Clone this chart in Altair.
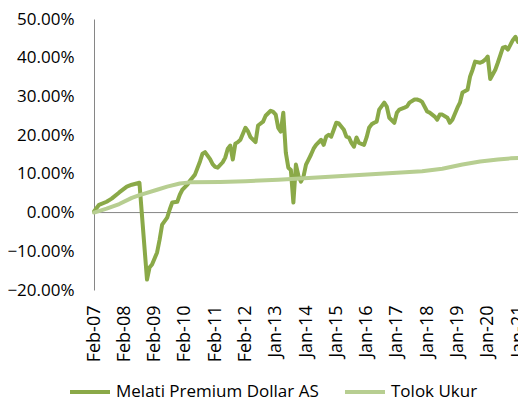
import altair as alt
import pandas as pd

# Melati Premium Dollar AS (cumulative return, %), x = month index from Feb-07
melati_month = [0, 2, 5, 7, 10, 13, 15, 18, 21, 22, 23, 25, 26, 27, 29, 30, 31, 33, 34, 35,
                37, 38, 39, 40, 42, 43, 44, 46, 47, 48, 49, 51, 52, 53, 54, 55, 56, 57, 58, 60,
                61, 62, 64, 65, 67, 68, 70, 71, 72, 73, 74, 75, 76, 77, 78, 79, 80, 81, 82, 83,
                84, 85, 86, 87, 88, 90, 91, 92, 93, 94, 95, 96, 97, 99, 100, 101, 102, 103, 104, 105,
                107, 108, 109, 110, 111, 112, 113, 115, 116, 117, 119, 120, 121, 123, 124, 125, 127, 128, 129, 130,
                132, 133, 135, 136, 137, 138, 140, 141, 142, 144, 145, 146, 148, 149, 150, 151, 153, 154, 155, 156,
                157, 159, 160, 162, 163, 164, 166, 167, 168]
melati_value = [0.3, 2.0, 2.8, 3.6, 5.2, 6.7, 7.2, 7.7, -17.3, -14.2, -13.4, -10.3, -7.0, -3.1, -1.3, 0.8, 2.6, 2.8, 4.6, 5.9,
                7.2, 8.2, 9.0, 9.8, 13.2, 15.2, 15.6, 13.8, 12.5, 11.8, 11.6, 13.0, 14.2, 16.5, 17.3, 13.7, 17.8, 18.2, 18.8, 21.9,
                21.0, 19.5, 18.2, 22.5, 23.5, 25.0, 26.3, 26.0, 25.3, 21.9, 20.9, 25.8, 15.5, 11.6, 11.0, 2.6, 12.4, 9.5, 8.0, 9.3,
                12.4, 13.7, 15.0, 16.5, 17.5, 18.8, 17.5, 19.6, 20.1, 19.6, 21.4, 23.2, 23.0, 21.4, 19.6, 19.4, 18.0, 17.0, 19.4, 18.0,
                17.5, 19.4, 21.9, 22.8, 23.2, 23.5, 26.6, 28.4, 27.4, 24.5, 23.2, 25.8, 26.6, 27.1, 27.4, 28.4, 29.2, 29.2, 29.0, 28.6,
                26.1, 25.8, 24.8, 24.0, 25.3, 25.3, 24.5, 23.2, 24.0, 27.1, 28.4, 31.0, 31.7, 35.1, 36.9, 39.0, 38.7, 39.0, 39.5, 40.3,
                34.5, 36.9, 38.7, 42.6, 42.8, 42.1, 44.6, 45.4, 44.1]

# Tolok Ukur (benchmark, %)
tolok_month = [0, 5, 10, 15, 18, 20, 25, 29, 34, 38, 50, 60, 73, 85, 100, 110, 120, 130, 138, 146, 153, 160, 165, 168]
tolok_value = [0.0, 1.0, 2.2, 3.8, 4.5, 4.9, 5.9, 6.7, 7.5, 7.8, 7.9, 8.1, 8.5, 8.9, 9.5, 9.9, 10.3, 10.7, 11.3, 12.4, 13.2, 13.7, 14.0, 14.1]

tick_months = [0, 12, 24, 36, 48, 60, 72, 84, 96, 108, 120, 132, 144, 156, 168]
tick_labels = ["Feb-07", "Feb-08", "Feb-09", "Feb-10", "Feb-11", "Feb-12", "Jan-13", "Jan-14",
               "Jan-15", "Jan-16", "Jan-17", "Jan-18", "Jan-19", "Jan-20", "Jan-21"]
y_ticks = [-20, -10, 0, 10, 20, 30, 40, 50]
zero_line = [0]

series_names = ["Melati Premium Dollar AS", "Tolok Ukur"]
series_colors = ["#8AA948", "#B7CE91"]

df = pd.concat([
    pd.DataFrame({"month": melati_month, "value": melati_value, "series": series_names[0], "ord": 0}),
    pd.DataFrame({"month": tolok_month, "value": tolok_value, "series": series_names[1], "ord": 1}),
], ignore_index=True)

FONT = "Open Sans"
label_expr = "[" + ",".join("'%s'" % l for l in tick_labels) + "][round(datum.value/12)]"

yscale = alt.Scale(domain=[-20, 50], nice=False, zero=False)
yaxis = alt.Axis(values=y_ticks, labelExpr="format(datum.value, '.2f') + '%'",
                 labelOverlap=False, labelFlush=False,
                 domain=True, domainColor="#868686", domainWidth=1,
                 ticks=False, grid=False, labelPadding=20, title=None,
                 labelFont=FONT, labelFontSize=17, labelColor="#000000")

x = alt.X("month:Q",
          scale=alt.Scale(domain=[0, 168], nice=False, zero=False),
          axis=alt.Axis(values=tick_months, labelExpr=label_expr, labelAngle=270,
                        labelOverlap=False, labelFlush=False,
                        domain=False, ticks=False, grid=False, labelPadding=15, title=None,
                        labelFont=FONT, labelFontSize=18, labelColor="#000000"))

zero_rule = alt.Chart(pd.DataFrame({"value": zero_line})).mark_rule(color="#868686", strokeWidth=1).encode(
    y=alt.Y("value:Q", scale=yscale, axis=yaxis)
)

lines = alt.Chart(df).mark_line(strokeWidth=4, strokeJoin="round", strokeCap="round").encode(
    x=x,
    y=alt.Y("value:Q", scale=yscale, axis=yaxis),
    color=alt.Color("series:N",
                    scale=alt.Scale(domain=series_names, range=series_colors),
                    legend=alt.Legend(title=None, orient="none", legendX=-26, legendY=351,
                                      direction="horizontal", symbolType="stroke",
                                      symbolStrokeWidth=4, symbolSize=1600,
                                      labelFont=FONT, labelFontSize=17, labelColor="#000000",
                                      labelLimit=400, labelOffset=4, columnPadding=18)),
    order=alt.Order("ord:Q"),
    detail="series:N",
)

chart = alt.layer(zero_rule, lines).properties(
    width=424, height=271,
    autosize=alt.AutoSizeParams(type="none"),
    padding={"left": 86, "top": 11, "right": 0, "bottom": 112},
    background="white",
).configure_view(stroke=None)

chart.save("out.html", embed_options={"renderer": "svg", "actions": False})
